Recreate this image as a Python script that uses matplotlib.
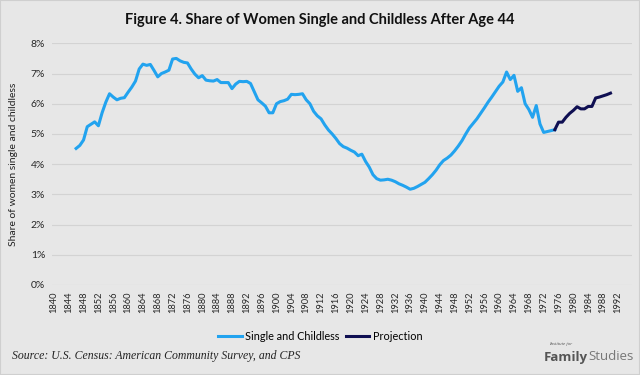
import matplotlib
matplotlib.use('Agg')
import matplotlib.pyplot as plt
from matplotlib.ticker import PercentFormatter
from matplotlib.lines import Line2D
from matplotlib.patches import Rectangle

# Data (share in percent, by year)
single_years = list(range(1846, 1976))
single_share = [
    4.52, 4.62, 4.80, 5.24,                                            # 1846-1849
    5.32, 5.40, 5.27, 5.70, 6.05, 6.33, 6.22, 6.13, 6.18, 6.20,        # 1850s
    6.38, 6.55, 6.75, 7.15, 7.31, 7.27, 7.30, 7.10, 6.89, 7.00,        # 1860s
    7.05, 7.11, 7.48, 7.50, 7.42, 7.37, 7.35, 7.15, 6.98, 6.86,        # 1870s
    6.93, 6.78, 6.76, 6.75, 6.80, 6.70, 6.70, 6.70, 6.50, 6.65,        # 1880s
    6.74, 6.73, 6.74, 6.67, 6.40, 6.13, 6.03, 5.92, 5.70, 5.70,        # 1890s
    6.00, 6.07, 6.10, 6.15, 6.31, 6.30, 6.31, 6.33, 6.13, 6.00,        # 1900s
    5.75, 5.60, 5.50, 5.30, 5.13, 5.00, 4.85, 4.68, 4.58, 4.53,        # 1910s
    4.46, 4.40, 4.28, 4.33, 4.09, 3.90, 3.65, 3.52, 3.47, 3.48,        # 1920s
    3.50, 3.47, 3.42, 3.35, 3.30, 3.24, 3.17, 3.20, 3.26, 3.33,        # 1930s
    3.40, 3.52, 3.65, 3.80, 3.98, 4.12, 4.20, 4.30, 4.44, 4.60,        # 1940s
    4.78, 5.00, 5.20, 5.35, 5.50, 5.68, 5.86, 6.05, 6.22, 6.40,        # 1950s
    6.58, 6.72, 7.05, 6.80, 6.94, 6.41, 6.53, 6.00, 5.81, 5.55,        # 1960s
    5.94, 5.33, 5.05, 5.08, 5.11, 5.14,                                # 1970-1975
]

proj_years = list(range(1975, 1991))
proj_share = [5.14, 5.39, 5.39, 5.55, 5.68, 5.78, 5.90, 5.83,
              5.83, 5.91, 5.91, 6.19, 6.22, 6.26, 6.30, 6.35]

tick_years = list(range(1840, 1993, 4))

title = 'Figure 4. Share of Women Single and Childless After Age 44'
source = 'Source: U.S. Census: American Community Survey, and CPS'

blue = '#22a3ef'
navy = '#0f0f52'
bg = '#e7e7e7'

fig = plt.figure(figsize=(6.4, 3.75), dpi=100, facecolor=bg)
ax = fig.add_axes([52/640, 1 - 285/375, 580/640, (285 - 43.3)/375])
ax.set_facecolor(bg)

ax.plot(single_years, single_share, color=blue, lw=2.2, solid_joinstyle='round')
ax.plot(proj_years, proj_share, color=navy, lw=2.2, solid_joinstyle='round')

ax.set_xlim(1839.5, 1995.8)
ax.set_ylim(0, 8)
ax.set_yticks(range(0, 9))
ax.yaxis.set_major_formatter(PercentFormatter(decimals=0))
ax.set_xticks(tick_years)
ax.set_xticklabels([str(y) for y in tick_years], rotation=90, fontsize=6.7,
                   family='Lato', color='#262626')
for lab in ax.get_yticklabels():
    lab.set_fontsize(7.5)
    lab.set_family('Lato')
    lab.set_color('#262626')
ax.tick_params(length=0, pad=5)
ax.grid(axis='y', color='#d3d3d3', lw=0.8)
ax.set_axisbelow(True)
for s in ax.spines.values():
    s.set_visible(False)

ax.set_ylabel('Share of women single and childless', fontsize=7.5, family='Lato',
              color='#222222')
ax.yaxis.set_label_coords(-0.059, 0.5)

fig.text(0.5, 1 - 20/375, title, ha='center', va='center', fontsize=10.5,
         fontweight='bold', family='Lato', color='#111111')

handles = [Line2D([], [], color=blue, lw=2.2), Line2D([], [], color=navy, lw=2.2)]
fig.legend(handles, ['Single and Childless', 'Projection'], loc='center',
           bbox_to_anchor=(0.5, 1 - 336/375), ncol=2, frameon=False,
           prop={'family': 'Lato', 'size': 7.8}, handlelength=2.2,
           handletextpad=0.3, columnspacing=0.6)

fig.text(12/640, 1 - 356/375, source, ha='left', va='center', fontsize=8.5,
         family='Liberation Serif', style='italic', color='#222222')

# logo in the bottom right corner
fig.text(549/640, 1 - 344/375, 'Institute for', ha='left', va='center',
         fontsize=3.5, family='Liberation Serif', style='italic', color='#555555')
fig.text(588/640, 1 - 357/375, 'Family', ha='right', va='center', fontsize=9.5,
         fontweight='bold', family='Open Sans', color='#555555')
fig.text(588/640, 1 - 357/375, 'Studies', ha='left', va='center', fontsize=9.5,
         family='Open Sans', color='#777777')

fig.patches.append(Rectangle((0, 0), 1, 1, transform=fig.transFigure, fill=False,
                             edgecolor='#cfcfcf', lw=1.5))

fig.savefig('out.png', dpi=100, facecolor=bg)
